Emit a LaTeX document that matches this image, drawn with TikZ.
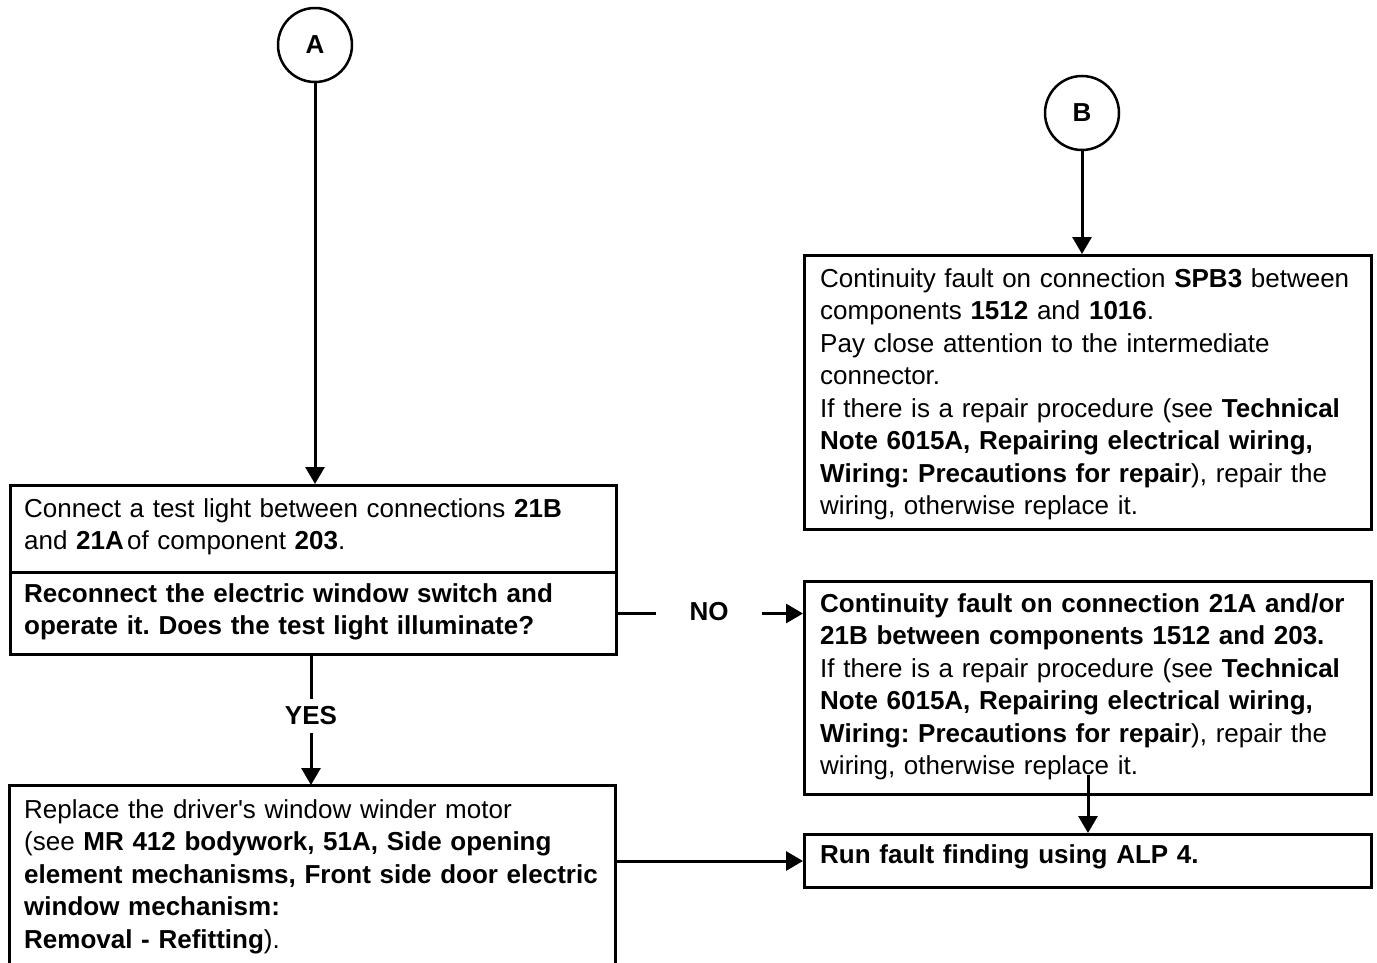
\documentclass[tikz,border=0pt]{standalone}
\usepackage{fontspec}
\setmainfont{Liberation Sans}
% same face without the TeX quote mapping, for a straight apostrophe
\newfontfamily\plainface{Liberation Sans}
\usetikzlibrary{arrows.meta}
\frenchspacing
\begin{document}
\begin{tikzpicture}[x=1pt,y=-1pt,
  frame/.style={draw, line width=3pt, inner sep=0pt, anchor=north west},
  body/.style={anchor=north west, inner sep=0pt, text width=640pt, align=left,
    font=\fontsize{26}{32.5}\selectfont},
  tag/.style={font=\bfseries\fontsize{26}{30}\selectfont, inner ysep=7.7pt},
  circ/.style={circle, draw, line width=2.5pt, minimum size=74pt, inner sep=0pt,
    font=\bfseries\fontsize{26}{30}\selectfont},
  link/.style={line width=3pt},
  arr/.style={link, -{Triangle[length=17pt,width=19pt]}}
]
\useasboundingbox (0,0) rectangle (1377,963);

% entry points
\node[circ] (A) at (315,45) {A};
\node[circ] (B) at (1082,113) {B};

% frames
\node[frame, minimum width=606pt, minimum height=87pt]  (q1a) at (9,484) {};
\node[frame, minimum width=606pt, minimum height=82pt]  (q1b) at (9,571) {};
\node[frame, minimum width=567pt, minimum height=274pt] (bb)  at (803,254) {};
\node[frame, minimum width=567pt, minimum height=213pt] (nob) at (803,580) {};
\node[frame, minimum width=567pt, minimum height=53pt]  (run) at (803,833) {};
\node[anchor=north west, inner sep=0pt, minimum width=606pt, minimum height=178pt] (rep) at (9,785) {};
\draw[link] (rep.south west) -- (rep.north west) -- (rep.north east) -- (rep.south east);

% texts
\node[body] (t1a) at (24,494.25) {\strut Connect a test light between connections \textbf{21B}\\
  and \textbf{21A}\hspace{0.12em}of component \textbf{203}.};
\node[body, font=\bfseries\fontsize{26}{32.5}\selectfont] (t1b) at (24,579.25) {\strut Reconnect the electric window switch and\\
  operate it. Does the test light illuminate?};
\node[body] (tbb) at (820,264.25) {\strut Continuity fault on connection \textbf{SPB3} between\\
  components \textbf{1512} and \textbf{1016}.\\
  Pay close attention to the intermediate\\
  connector.\\
  If there is a repair procedure (see \textbf{Technical}\\
  \textbf{Note 6015A, Repairing electrical wiring,}\\
  \textbf{Wiring: Precautions for repair}), repair the\\
  wiring, otherwise replace it.};
\node[body] (tnob) at (820,589.25) {\strut \textbf{Continuity fault on connection 21A and/or}\\
  \textbf{21B between components 1512 and 203.}\\
  If there is a repair procedure (see \textbf{Technical}\\
  \textbf{Note 6015A, Repairing electrical wiring,}\\
  \textbf{Wiring: Precautions for repair}), repair the\\
  wiring, otherwise replace it.};
\node[body] (trep) at (24,795.25) {\strut Replace the driver{\plainface'}s window winder motor\\
  (see \textbf{MR 412 bodywork, 51A, Side opening}\\
  \textbf{element mechanisms, Front side door electric}\\
  \textbf{window mechanism:}\\
  \textbf{Removal - Refitting}).};
\node[body] (trun) at (820,840.25) {\strut\textbf{Run fault finding using ALP 4.}};

% branch labels
\node[tag, inner xsep=33pt] (no) at (709,612) {NO};
\node[tag] (yes) at (311,716) {YES};

% connectors
\draw[arr] (A) -- (A |- q1a.north);
\draw[arr] (B) -- (B |- bb.north);
\draw[link] (q1b.east) -- (q1b.east -| no.west);
\draw[arr] (no.east |- q1b.east) -- (q1b.east -| nob.west);
\draw[link] (yes |- q1b.south) -- (yes.north);
\draw[arr] (yes.south) -- (yes |- rep.north);
\coordinate (tap) at (1088,775);
\draw[arr] (tap) -- (tap |- run.north);
\draw[arr] (rep.east |- run.west) -- (run.west);
\end{tikzpicture}
\end{document}
